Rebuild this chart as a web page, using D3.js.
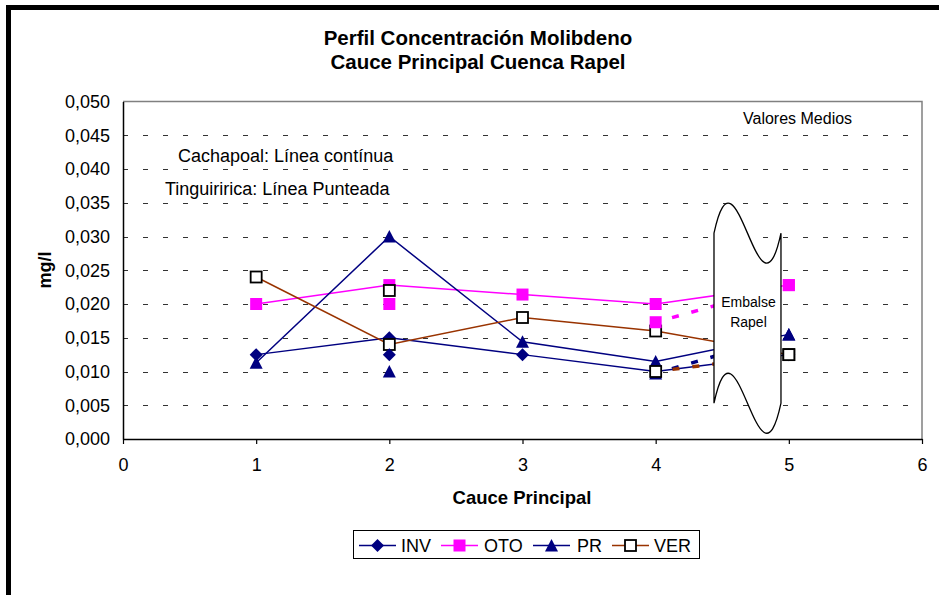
<!DOCTYPE html>
<html>
<head>
<meta charset="utf-8">
<script src="https://cdn.jsdelivr.net/npm/d3@7"></script>
<style>
  body { margin: 0; background: #fff; }
  svg { display: block; font-family: Arial, "Liberation Sans", sans-serif; }
</style>
</head>
<body>
<svg id="chart" width="939" height="595"></svg>
<script>
// stations along the main channel
const stations = [1, 2, 3, 4, 5];
const xTicks = [0, 1, 2, 3, 4, 5, 6];
const yTicks = [0, 0.005, 0.010, 0.015, 0.020, 0.025, 0.030, 0.035, 0.040, 0.045, 0.050];
const seriesNames = ["INV", "OTO", "PR", "VER"];

// Cachapoal (solid line), stations 1..5
const cachaINV = [0.0125, 0.0150, 0.0125, 0.0100, 0.0125];
const cachaOTO = [0.0200, 0.0228, 0.0214, 0.0200, 0.0228];
const cachaPR  = [0.0113, 0.0300, 0.0144, 0.0115, 0.0155];
const cachaVER = [0.0240, 0.0140, 0.0180, 0.0160, 0.0125];

// extra values at station 2 (no line)
const st2Stations = [2];
const st2INV = [0.0125];
const st2OTO = [0.0200];
const st2PR  = [0.0100];
const st2VER = [0.0220];

// Tinguiririca (dotted line), stations 4..5
const tinguiStations = [4, 5];
const tinguiOTO = [0.0173, 0.0228];
const tinguiPR  = [0.0097, 0.0155];
const tinguiVER = [0.0100, 0.0125];

const colors = { INV: "#000080", OTO: "#FF00FF", PR: "#000080", VER: "#993300" };

const width = 939, height = 595;
const svg = d3.select("#chart");

// chart frame (thick black on top and left)
svg.append("path")
  .attr("d", "M8.5,600 L8.5,7.5 L945,7.5")
  .attr("fill", "none").attr("stroke", "#000").attr("stroke-width", 5);

const x = d3.scaleLinear().domain([0, 6]).range([123, 922]);
const y = d3.scaleLinear().domain([0, 0.05]).range([439, 101.5]);

const loc = d3.formatLocale({ decimal: ",", thousands: ".", grouping: [3], currency: ["", ""] });
const fmt = loc.format(".3f");

// gridlines
svg.append("g").selectAll("line")
  .data(yTicks.filter(d => d > 0 && d < 0.05))
  .enter().append("line")
  .attr("x1", x(0)).attr("x2", x(6))
  .attr("y1", d => Math.round(y(d)) + 0.5).attr("y2", d => Math.round(y(d)) + 0.5)
  .attr("stroke", "#333").attr("stroke-dasharray", "5,15");

// plot border top/right
svg.append("path")
  .attr("d", `M${x(0)},${y(0.05)} L${x(6)},${y(0.05)} L${x(6)},${y(0)}`)
  .attr("fill", "none").attr("stroke", "#808080").attr("stroke-width", 1.5);

// axes
const xAxis = svg.append("g")
  .attr("transform", `translate(0,${y(0)})`)
  .call(d3.axisBottom(x).tickValues(xTicks).tickSize(5).tickSizeOuter(0).tickPadding(14).tickFormat(d3.format("d")));
xAxis.select(".domain").attr("stroke", "#000").attr("stroke-width", 1.5);
xAxis.selectAll(".tick line").attr("stroke", "#000").attr("stroke-width", 1.2);
xAxis.selectAll("text").attr("font-size", 18).attr("font-family", "Arial, 'Liberation Sans'").attr("fill", "#000");

const yAxis = svg.append("g")
  .attr("transform", `translate(${x(0)},0)`)
  .call(d3.axisLeft(y).tickValues(yTicks).tickSize(0).tickPadding(13).tickFormat(fmt));
yAxis.select(".domain").attr("stroke", "#000").attr("stroke-width", 1.5);
yAxis.selectAll("text").attr("font-size", 18).attr("font-family", "Arial, 'Liberation Sans'").attr("fill", "#000");

// titles
svg.append("text").attr("x", 478).attr("y", 45).attr("text-anchor", "middle")
  .attr("font-size", 20.5).attr("font-weight", "bold").text("Perfil Concentración Molibdeno");
svg.append("text").attr("x", 478).attr("y", 69).attr("text-anchor", "middle")
  .attr("font-size", 20.5).attr("font-weight", "bold").text("Cauce Principal Cuenca Rapel");
svg.append("text").attr("x", 522).attr("y", 504).attr("text-anchor", "middle")
  .attr("font-size", 18.5).attr("font-weight", "bold").text("Cauce Principal");
svg.append("text").attr("transform", "translate(51,270) rotate(-90)").attr("text-anchor", "middle")
  .attr("font-size", 18).attr("font-weight", "bold").text("mg/l");

// annotations
svg.append("text").attr("x", 743).attr("y", 124).attr("font-size", 16).text("Valores Medios");
svg.append("text").attr("x", 178).attr("y", 162).attr("font-size", 18).text("Cachapoal: Línea contínua");
svg.append("text").attr("x", 165).attr("y", 195).attr("font-size", 18).text("Tinguiririca: Línea Punteada");

// markers
function drawMarker(g, name, cx, cy) {
  if (name === "INV") {
    g.append("path").attr("d", `M${cx},${cy - 6.5} L${cx + 6.5},${cy} L${cx},${cy + 6.5} L${cx - 6.5},${cy} Z`)
      .attr("fill", "#000080");
  } else if (name === "OTO") {
    g.append("rect").attr("x", cx - 6).attr("y", cy - 6).attr("width", 12).attr("height", 12)
      .attr("fill", "#FF00FF");
  } else if (name === "PR") {
    g.append("path").attr("d", `M${cx},${cy - 6.5} L${cx + 6.5},${cy + 6} L${cx - 6.5},${cy + 6} Z`)
      .attr("fill", "#000080");
  } else {
    g.append("rect").attr("x", cx - 5.5).attr("y", cy - 5.5).attr("width", 11).attr("height", 11)
      .attr("fill", "#fff").attr("stroke", "#000").attr("stroke-width", 1.8);
  }
}

const line = d3.line().x(d => x(d[0])).y(d => y(d[1]));

const cachapoal = { INV: cachaINV, OTO: cachaOTO, PR: cachaPR, VER: cachaVER };
const station2 = { INV: st2INV, OTO: st2OTO, PR: st2PR, VER: st2VER };
const tinguiririca = { OTO: tinguiOTO, PR: tinguiPR, VER: tinguiVER };

const plot = svg.append("g");

seriesNames.forEach(name => {
  const pts = stations.map((s, i) => [s, cachapoal[name][i]]);
  const g = plot.append("g");
  g.append("path").attr("d", line(pts)).attr("fill", "none")
    .attr("stroke", colors[name]).attr("stroke-width", 1.5);
  pts.forEach(p => drawMarker(g, name, x(p[0]), y(p[1])));
});

seriesNames.forEach(name => {
  const g = plot.append("g");
  st2Stations.forEach((s, i) => drawMarker(g, name, x(s), y(station2[name][i])));
});

seriesNames.filter(n => tinguiririca[n]).forEach(name => {
  const pts = tinguiStations.map((s, i) => [s, tinguiririca[name][i]]);
  const g = plot.append("g");
  g.append("path").attr("d", line(pts)).attr("fill", "none")
    .attr("stroke", colors[name]).attr("stroke-width", 3.5).attr("stroke-dasharray", "7,13")
    .attr("stroke-dashoffset", -17);
  pts.forEach(p => drawMarker(g, name, x(p[0]), y(p[1])));
});

// reservoir shape "Embalse Rapel"
const xL = x(4.438), xR = x(4.941), w = xR - xL;
const yT = y(0.0305), yB = y(0.0053);
const c = 104;
svg.append("path")
  .attr("d", `M${xL},${yT} C${xL + w / 3},${yT - c} ${xL + 2 * w / 3},${yT + c} ${xR},${yT}
              L${xR},${yB} C${xL + 2 * w / 3},${yB + c} ${xL + w / 3},${yB - c} ${xL},${yB} Z`)
  .attr("fill", "#fff").attr("stroke", "#000").attr("stroke-width", 1.3);
svg.append("text").attr("x", (xL + xR) / 2 + 1).attr("y", 307).attr("text-anchor", "middle")
  .attr("font-size", 14).text("Embalse");
svg.append("text").attr("x", (xL + xR) / 2 + 1).attr("y", 327).attr("text-anchor", "middle")
  .attr("font-size", 14).text("Rapel");

// legend
const legend = svg.append("g");
legend.append("rect").attr("x", 353.5).attr("y", 530.5).attr("width", 346).attr("height", 28)
  .attr("fill", "#fff").attr("stroke", "#000").attr("stroke-width", 1);
const legendX = [359, 441, 533, 612];
const legendTextX = [401, 484, 577, 654];
seriesNames.forEach((name, i) => {
  const ly = 545.5;
  legend.append("line").attr("x1", legendX[i]).attr("x2", legendX[i] + 37)
    .attr("y1", ly).attr("y2", ly).attr("stroke", colors[name]).attr("stroke-width", 1.5);
  drawMarker(legend, name, legendX[i] + 18.5, ly);
  legend.append("text").attr("x", legendTextX[i]).attr("y", 552).attr("font-size", 18).text(name);
});
</script>
</body>
</html>
